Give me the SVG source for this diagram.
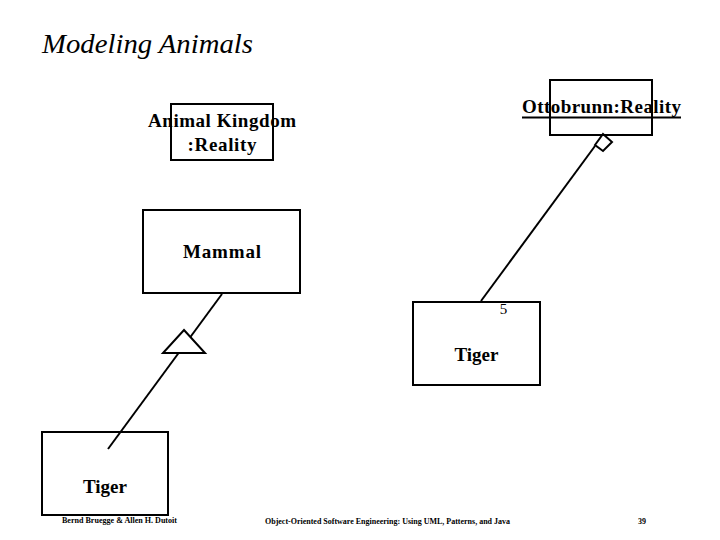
<svg xmlns="http://www.w3.org/2000/svg" width="720" height="540" viewBox="0 0 720 540">
<style>
.box{fill:none;stroke:#000;stroke-width:2}
.lbl{font-family:"Liberation Serif","Times New Roman",serif;font-weight:bold;font-size:19px;fill:#000;text-anchor:middle}
.edge{stroke:#000;stroke-width:2;fill:none}
.foot{font-family:"Liberation Serif","Times New Roman",serif;font-weight:bold;font-size:8px;fill:#000}
</style>
<rect width="720" height="540" fill="#fff"/>
<text x="42" y="53" font-family="'Liberation Serif','Times New Roman',serif" font-style="italic" font-size="28" textLength="211" lengthAdjust="spacingAndGlyphs">Modeling Animals</text>

<g id="connectors">
  <line class="edge" x1="222" y1="294" x2="108" y2="449"/>
  <polygon points="184,330 205,353 163,353" fill="#fff" stroke="#000" stroke-width="2"/>
  <line class="edge" x1="481" y1="301" x2="595" y2="146"/>
  <polygon points="603,134 612,142 603,151 595,145" fill="#fff" stroke="#000" stroke-width="2"/>
  <text x="503.5" y="314" font-family="'Liberation Serif','Times New Roman',serif" font-size="15" text-anchor="middle">5</text>
</g>

<g id="animal-kingdom">
  <rect class="box" x="171" y="104" width="102" height="56"/>
  <text class="lbl" x="222" y="127" textLength="148" lengthAdjust="spacing">Animal Kingdom</text>
  <text class="lbl" x="222" y="151" textLength="69" lengthAdjust="spacing">:Reality</text>
</g>

<g id="ottobrunn">
  <rect class="box" x="550" y="80" width="102" height="55"/>
  <text class="lbl" x="601.5" y="113" textLength="159" lengthAdjust="spacing">Ottobrunn:Reality</text>
  <line x1="522" y1="117.5" x2="681" y2="117.5" stroke="#000" stroke-width="2"/>
</g>

<g id="mammal">
  <rect class="box" x="143" y="210" width="157" height="83"/>
  <text class="lbl" x="222" y="258" textLength="78" lengthAdjust="spacing">Mammal</text>
</g>

<g id="tiger-right">
  <rect class="box" x="413" y="302" width="127" height="83"/>
  <text class="lbl" x="476.5" y="361">Tiger</text>
</g>

<g id="tiger-left">
  <rect class="box" x="42" y="432" width="126" height="83"/>
  <text class="lbl" x="105" y="493">Tiger</text>
</g>

<text class="foot" x="62" y="523" textLength="115" lengthAdjust="spacingAndGlyphs">Bernd Bruegge &amp; Allen H. Dutoit</text>
<text class="foot" x="265" y="524" textLength="245" lengthAdjust="spacingAndGlyphs">Object-Oriented Software Engineering: Using UML, Patterns, and Java</text>
<text class="foot" x="638" y="524">39</text>
</svg>
